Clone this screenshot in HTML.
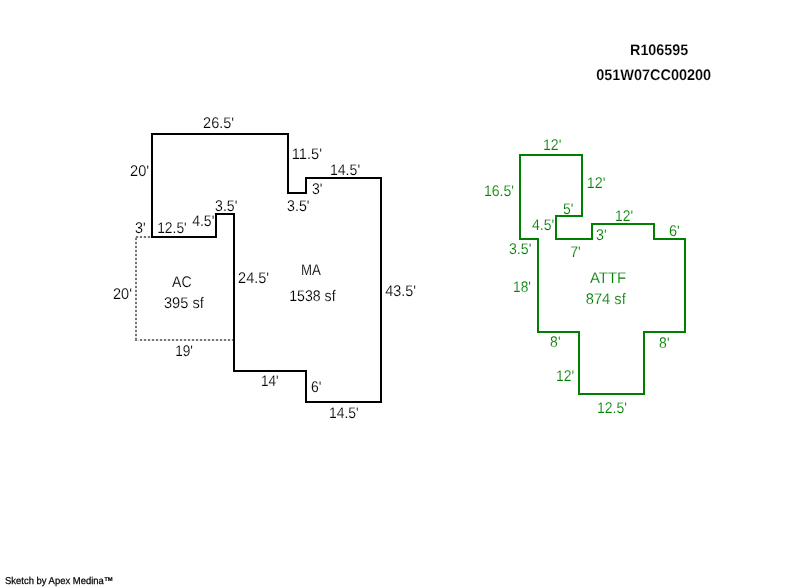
<!DOCTYPE html>
<html><head><meta charset="utf-8"><title>Sketch</title>
<style>
html,body{margin:0;padding:0;background:#fff;width:800px;height:587px;overflow:hidden}
svg{display:block;font-family:"Liberation Sans",sans-serif}
text{text-rendering:geometricPrecision;stroke:#fff;stroke-width:0.15;stroke-linejoin:round}
</style></head><body>
<svg width="800" height="587" viewBox="0 0 800 587">
<rect width="800" height="587" fill="#fff"/>
<g style="will-change:transform">
<text transform="translate(203.11,128) scale(0.939,1)" font-size="15.4" fill="#000000">26.5&#39;</text>
<text transform="translate(130.1,176) scale(0.948,1)" font-size="15.4" fill="#000000">20&#39;</text>
<text transform="translate(291.8,159) scale(0.95,1)" font-size="15.4" fill="#000000">11.5&#39;</text>
<text transform="translate(329.94,175) scale(0.916,1)" font-size="15.4" fill="#000000">14.5&#39;</text>
<text transform="translate(311.99,194) scale(0.915,1)" font-size="15.4" fill="#000000">3&#39;</text>
<text transform="translate(287.12,211) scale(0.922,1)" font-size="15.4" fill="#000000">3.5&#39;</text>
<text transform="translate(215.04,211) scale(0.917,1)" font-size="15.4" fill="#000000">3.5&#39;</text>
<text transform="translate(135.07,233) scale(0.935,1)" font-size="15.4" fill="#000000">3&#39;</text>
<text transform="translate(157.15,233) scale(0.9,1)" font-size="15.4" fill="#000000">12.5&#39;</text>
<text transform="translate(192.16,226) scale(0.912,1)" font-size="15.4" fill="#000000">4.5&#39;</text>
<text transform="translate(172.05,287) scale(0.914,1)" font-size="15.4" fill="#000000">AC</text>
<text transform="translate(164,308) scale(0.949,1)" font-size="15.4" fill="#000000">395 sf</text>
<text transform="translate(113.01,299) scale(0.942,1)" font-size="15.4" fill="#000000">20&#39;</text>
<text transform="translate(175.17,356) scale(0.883,1)" font-size="15.4" fill="#000000">19&#39;</text>
<text transform="translate(238.11,283) scale(0.942,1)" font-size="15.4" fill="#000000">24.5&#39;</text>
<text transform="translate(301.05,275) scale(0.861,1)" font-size="15.4" fill="#000000">MA</text>
<text transform="translate(289.23,301) scale(0.918,1)" font-size="15.4" fill="#000000">1538 sf</text>
<text transform="translate(385.16,296) scale(0.934,1)" font-size="15.4" fill="#000000">43.5&#39;</text>
<text transform="translate(260.97,386) scale(0.878,1)" font-size="15.4" fill="#000000">14&#39;</text>
<text transform="translate(311.09,392) scale(0.905,1)" font-size="15.4" fill="#000000">6&#39;</text>
<text transform="translate(329,418) scale(0.902,1)" font-size="15.4" fill="#000000">14.5&#39;</text>
<text transform="translate(542.93,150) scale(0.922,1)" font-size="15.4" fill="#008000">12&#39;</text>
<text transform="translate(586.82,188) scale(0.928,1)" font-size="15.4" fill="#008000">12&#39;</text>
<text transform="translate(483.99,196) scale(0.911,1)" font-size="15.4" fill="#008000">16.5&#39;</text>
<text transform="translate(562.99,214) scale(0.905,1)" font-size="15.4" fill="#008000">5&#39;</text>
<text transform="translate(532.04,230) scale(0.913,1)" font-size="15.4" fill="#008000">4.5&#39;</text>
<text transform="translate(595.92,240) scale(0.93,1)" font-size="15.4" fill="#008000">3&#39;</text>
<text transform="translate(508.97,254) scale(0.92,1)" font-size="15.4" fill="#008000">3.5&#39;</text>
<text transform="translate(570.13,257) scale(0.92,1)" font-size="15.4" fill="#008000">7&#39;</text>
<text transform="translate(615.05,221) scale(0.9,1)" font-size="15.4" fill="#008000">12&#39;</text>
<text transform="translate(669.01,236) scale(0.94,1)" font-size="15.4" fill="#008000">6&#39;</text>
<text transform="translate(513.06,292) scale(0.889,1)" font-size="15.4" fill="#008000">18&#39;</text>
<text transform="translate(589.99,283) scale(0.971,1)" font-size="15.4" fill="#008000">ATTF</text>
<text transform="translate(585.79,304) scale(0.954,1)" font-size="15.4" fill="#008000">874 sf</text>
<text transform="translate(550.1,347) scale(0.909,1)" font-size="15.4" fill="#008000">8&#39;</text>
<text transform="translate(659.1,348) scale(0.909,1)" font-size="15.4" fill="#008000">8&#39;</text>
<text transform="translate(556.05,381) scale(0.9,1)" font-size="15.4" fill="#008000">12&#39;</text>
<text transform="translate(596.99,413) scale(0.91,1)" font-size="15.4" fill="#008000">12.5&#39;</text>
<text transform="translate(630.01,55) scale(0.933,1)" font-size="15.4" font-weight="bold" fill="#000000">R106595</text>
<text transform="translate(596.14,80) scale(0.94,1)" font-size="15.4" font-weight="bold" fill="#000000">051W07CC00200</text>
<text transform="translate(5,584) scale(0.945,1)" font-size="10" fill="#000" style="stroke:#000;stroke-width:0.25;text-rendering:geometricPrecision">Sketch by Apex Medina™</text>
</g>
<path d="M135 237H151M136 237V340H233" fill="none" stroke="#ececec" stroke-width="2" shape-rendering="crispEdges"/>
<g fill="#777777" shape-rendering="crispEdges"><rect x="136" y="236" width="2" height="2"/><rect x="140" y="236" width="2" height="2"/><rect x="144" y="236" width="2" height="2"/><rect x="148" y="236" width="2" height="2"/><rect x="135" y="238" width="2" height="2"/><rect x="135" y="242" width="2" height="2"/><rect x="135" y="246" width="2" height="2"/><rect x="135" y="250" width="2" height="2"/><rect x="135" y="254" width="2" height="2"/><rect x="135" y="258" width="2" height="2"/><rect x="135" y="262" width="2" height="2"/><rect x="135" y="266" width="2" height="2"/><rect x="135" y="270" width="2" height="2"/><rect x="135" y="274" width="2" height="2"/><rect x="135" y="278" width="2" height="2"/><rect x="135" y="282" width="2" height="2"/><rect x="135" y="286" width="2" height="2"/><rect x="135" y="290" width="2" height="2"/><rect x="135" y="294" width="2" height="2"/><rect x="135" y="298" width="2" height="2"/><rect x="135" y="302" width="2" height="2"/><rect x="135" y="306" width="2" height="2"/><rect x="135" y="310" width="2" height="2"/><rect x="135" y="314" width="2" height="2"/><rect x="135" y="318" width="2" height="2"/><rect x="135" y="322" width="2" height="2"/><rect x="135" y="326" width="2" height="2"/><rect x="135" y="330" width="2" height="2"/><rect x="135" y="334" width="2" height="2"/><rect x="135" y="338" width="2" height="2"/><rect x="140" y="339" width="2" height="2"/><rect x="144" y="339" width="2" height="2"/><rect x="148" y="339" width="2" height="2"/><rect x="152" y="339" width="2" height="2"/><rect x="156" y="339" width="2" height="2"/><rect x="160" y="339" width="2" height="2"/><rect x="164" y="339" width="2" height="2"/><rect x="168" y="339" width="2" height="2"/><rect x="172" y="339" width="2" height="2"/><rect x="176" y="339" width="2" height="2"/><rect x="180" y="339" width="2" height="2"/><rect x="184" y="339" width="2" height="2"/><rect x="188" y="339" width="2" height="2"/><rect x="192" y="339" width="2" height="2"/><rect x="196" y="339" width="2" height="2"/><rect x="200" y="339" width="2" height="2"/><rect x="204" y="339" width="2" height="2"/><rect x="208" y="339" width="2" height="2"/><rect x="212" y="339" width="2" height="2"/><rect x="216" y="339" width="2" height="2"/><rect x="220" y="339" width="2" height="2"/><rect x="224" y="339" width="2" height="2"/><rect x="228" y="339" width="2" height="2"/><rect x="232" y="339" width="2" height="2"/><rect x="135" y="339" width="2" height="2"/></g>
<polygon points="152,134 288,134 288,193 306,193 306,178 381,178 381,402 306,402 306,371 234,371 234,214 216,214 216,237 152,237" fill="none" stroke="#000" stroke-width="2" stroke-linejoin="miter" shape-rendering="crispEdges"/>
<polygon points="520,155 582,155 582,216 556,216 556,239 592,239 592,224 654,224 654,239 685,239 685,332 644,332 644,394 579,394 579,332 538,332 538,239 520,239" fill="none" stroke="#008000" stroke-width="2" stroke-linejoin="miter" shape-rendering="crispEdges"/>
</svg>
</body></html>
